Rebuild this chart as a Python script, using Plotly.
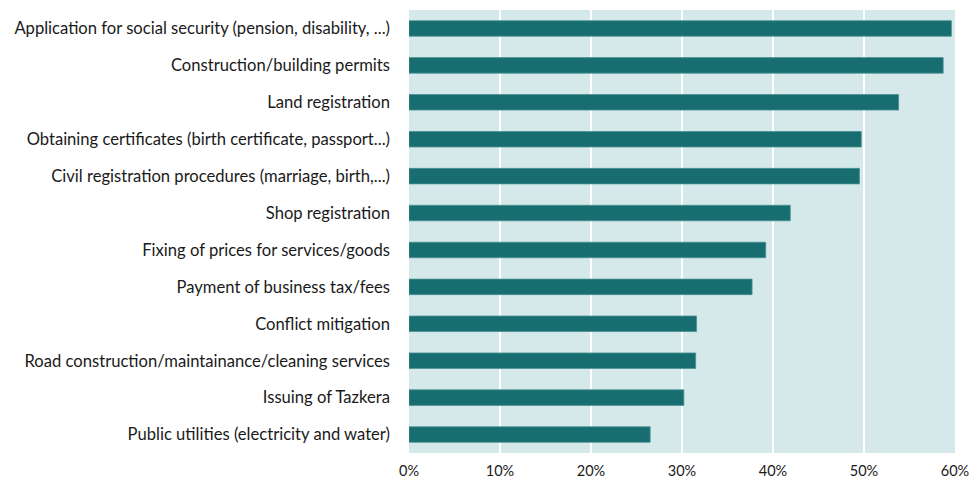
import plotly.graph_objects as go

categories = [
    "Application for social security (pension, disability, ...)",
    "Construction/building permits",
    "Land registration",
    "Obtaining certificates (birth certificate, passport...)",
    "Civil registration procedures (marriage, birth,...)",
    "Shop registration",
    "Fixing of prices for services/goods",
    "Payment of business tax/fees",
    "Conflict mitigation",
    "Road construction/maintainance/cleaning services",
    "Issuing of Tazkera",
    "Public utilities (electricity and water)",
]
values = [59.6, 58.7, 53.8, 49.7, 49.5, 41.9, 39.2, 37.7, 31.6, 31.5, 30.2, 26.5]
tick_vals = [0, 10, 20, 30, 40, 50, 60]
tick_text = ["0%", "10%", "20%", "30%", "40%", "50%", "60%"]

fig = go.Figure(go.Bar(
    x=values[::-1],
    y=categories[::-1],
    orientation="h",
    width=0.42,
    marker=dict(color="#176d6f", line=dict(color="#4a9193", width=0.8)),
))

fig.update_layout(
    width=973, height=481,
    margin=dict(l=409, r=18, t=10, b=28, autoexpand=False),
    paper_bgcolor="white",
    plot_bgcolor="#d5e9ea",
    font=dict(family="Lato, 'Open Sans', sans-serif", size=16.6, color="#1a1a1a"),
    showlegend=False,
)
fig.update_xaxes(
    range=[0, 60], tickvals=tick_vals, ticktext=tick_text,
    showgrid=True, gridcolor="white", gridwidth=2,
    zeroline=False, showline=False, ticks="", ticklabelstandoff=7,
    tickfont=dict(size=14.5),
)
fig.update_yaxes(
    showgrid=False, zeroline=False, showline=False, ticks="",
    ticklabelstandoff=18, range=[-0.5, 11.5],
)

fig.write_html(
    "out.html",
    config={"displayModeBar": False},
    post_script="document.body.style.margin='0';document.body.style.overflow='hidden';",
)
